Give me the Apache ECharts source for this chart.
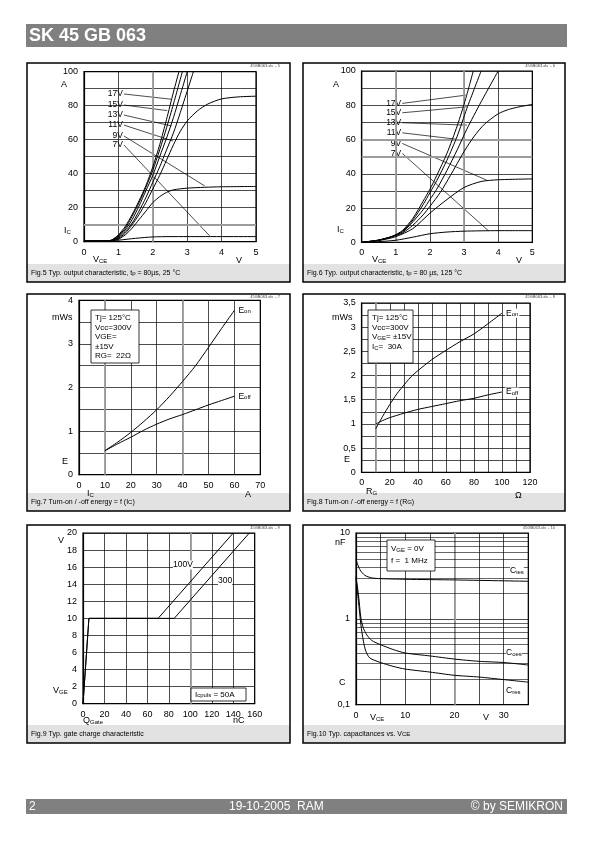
<!DOCTYPE html>
<html><head><meta charset="utf-8">
<script src="https://cdn.jsdelivr.net/npm/echarts@6/dist/echarts.min.js"></script>
<style>html,body{margin:0;padding:0;background:#fff}#c{width:595px;height:842px}</style>
</head><body><div id="c"></div>
<script>
// ---------- DATA ----------
// Fig.5  output characteristic 25 °C  (VCE [V], IC [A])
const f5_c1 = [[0,0.4],[0.6,0.4],[0.8,1],[1,4],[1.2,9],[1.4,16],[1.6,24],[1.8,33],[2,44],[2.2,57],[2.4,72],[2.6,88],[2.76,100]];
const f5_c2 = [[0,0.4],[0.6,0.4],[0.8,0.9],[1,3.5],[1.2,8],[1.4,15],[1.6,23],[1.8,32],[2,42],[2.2,54],[2.4,67],[2.6,81],[2.86,100]];
const f5_c3 = [[0,0.4],[0.6,0.4],[0.8,0.8],[1,3],[1.2,7],[1.4,13],[1.6,21],[1.8,30],[2,39],[2.2,50],[2.4,61],[2.6,73],[3.0,100]];
const f5_c4 = [[0,0.4],[0.6,0.4],[0.8,0.7],[1,2.5],[1.2,6],[1.4,11],[1.6,18],[1.8,26],[2,35],[2.2,44],[2.4,54],[2.6,64],[2.8,76],[3.18,100]];
const f5_11V = [[0,0.4],[0.6,0.4],[0.8,0.6],[1,2],[1.2,5],[1.4,10],[1.6,16],[1.8,23],[2,31],[2.2,39],[2.4,48],[2.6,57],[2.8,65],[3.0,71],[3.3,77],[3.6,81],[4,84],[4.5,85.2],[5,85.6]];
const f5_9V = [[0,0.4],[0.6,0.4],[0.8,0.5],[1,1.5],[1.2,4],[1.4,8],[1.6,13],[1.8,18],[2,23],[2.2,26.5],[2.4,29],[2.6,30.5],[3,31.5],[3.5,32],[4,32.3],[5,32.5]];
const f5_7V = [[0,0.4],[0.6,0.4],[1,0.9],[1.5,2],[2,2.8],[2.5,3],[3,3],[5,3]];
const f5_labels = ['17V','15V','13V','11V','9V','7V'];
const f5_labelAt = [[1.16,86.9],[1.16,80.4],[1.16,74.5],[1.16,68.6],[1.16,62.2],[1.16,56.9]];
const f5_pointTo = [[2.54,83.8],[2.42,77.1],[2.54,68.1],[2.59,59.2],[3.51,32.8],[3.65,3.5]];

// Fig.6  output characteristic 125 °C
const f6_17V = [[0,0],[0.5,1.3],[0.9,3.5],[1.2,7],[1.5,14],[1.8,24],[2,31],[2.2,39],[2.5,52],[2.8,68],[3.05,84],[3.27,100]];
const f6_15V = [[0,0],[0.5,1.3],[0.9,3.5],[1.2,6.5],[1.5,13],[1.8,22],[2,29],[2.2,36],[2.5,48],[2.8,62],[3.08,78],[3.5,100]];
const f6_13V = [[0,0],[0.5,1.3],[0.9,3.5],[1.2,6],[1.5,12],[1.8,19],[2,25],[2.2,31],[2.5,42],[2.8,54],[3.08,66],[3.5,82],[4.0,100]];
const f6_11V = [[0,0],[0.5,1.2],[0.9,3.3],[1.2,5.5],[1.5,10],[1.8,16],[2,21],[2.3,29],[2.6,39],[3,53],[3.3,62],[3.6,69],[4,75],[4.3,77.5],[4.6,79],[5,80.5]];
const f6_9V = [[0,0],[0.5,1],[1,3.3],[1.5,8],[2,17],[2.5,25],[3,32],[3.5,35.5],[4,36.5],[5,37]];
const f6_7V = [[0,0],[0.5,0.4],[1,1.2],[1.5,3],[2,5],[2.5,6],[3,6.5],[4,6.8],[5,6.8]];
const f6_labels = ['17V','15V','13V','11V','9V','7V'];
const f6_labelAt = [[1.19,81.1],[1.19,75.6],[1.19,69.8],[1.19,63.9],[1.19,57.7],[1.19,51.9]];
const f6_pointTo = [[3.05,85.9],[3.08,79.1],[3.08,68.4],[2.98,59.7],[3.66,36.3],[3.71,6.8]];

// Fig.7  E = f(IC)   (IC [A], E [mWs])
const f7_Eon = [[10,0.55],[15,0.75],[20,0.97],[25,1.22],[30,1.49],[35,1.8],[40,2.14],[45,2.5],[50,2.92],[55,3.35],[60,3.77]];
const f7_Eoff = [[10,0.55],[15,0.71],[20,0.86],[25,1.02],[30,1.16],[35,1.28],[40,1.38],[45,1.49],[50,1.6],[55,1.7],[60,1.8]];

// Fig.8  E = f(RG)   (RG [Ohm], E [mWs])
const f8_Eon = [[10,0.9],[15,1.16],[20,1.4],[25,1.62],[28,1.73],[35,1.97],[40,2.1],[50,2.33],[60,2.52],[70,2.7],[80,2.86],[90,3.07],[100,3.29]];
const f8_Eoff = [[10,1.0],[15,1.07],[20,1.13],[30,1.22],[40,1.3],[50,1.36],[60,1.42],[70,1.48],[80,1.53],[90,1.6],[100,1.66]];

// Fig.9  gate charge (QGate [nC], VGE [V])
const f9_100V = [[0,0],[5.5,10],[70,10],[140,20]];
const f9_300V = [[0,0],[5.5,10],[85,10],[155,20]];

// Fig.10 capacitances (VCE [V], C [nF])
const f10_Cies = [[0,4.9],[0.8,3.73],[1.8,3.21],[3.2,3.0],[5,2.94],[10,2.89],[20,2.84],[35,2.74]];
const f10_Coes = [[0,3.1],[0.5,1.91],[1,1.02],[1.5,0.78],[2.2,0.65],[3.2,0.56],[5,0.5],[7.5,0.44],[10,0.4],[15,0.37],[20,0.34],[25,0.32],[30,0.31],[35,0.29]];
const f10_Cres = [[0,3.0],[0.5,1.6],[1,0.85],[1.5,0.55],[2,0.42],[2.8,0.35],[5,0.31],[7.5,0.28],[10,0.26],[15,0.24],[20,0.22],[25,0.21],[30,0.196],[35,0.183]];
const f10_minorLines = [0.2,0.3,0.4,0.5,0.6,0.7,0.8,0.9,2,3,4,5,6,7,8,9];

// grid lines that print grey/thick in the scanned sheet (axis values)
const greyX = [[2],[1,3],[10,40],[10],[100],[20]];
const greyY = [[10],[60,50],[],[],[],[]];

// ---------- CHART ----------
const F = "'Liberation Sans', Arial, Helvetica, sans-serif";
const chart = echarts.init(document.getElementById('c'), null, {renderer:'canvas'});

const SUB = {fontSize:6, fontFamily:F, verticalAlign:'bottom', lineHeight:5, color:'#000', fill:'#000'};

function grid(l,t,w,h){return {left:l,top:t,width:w,height:h,show:true,borderColor:'#000',borderWidth:1.2,backgroundColor:'transparent',containLabel:false};}
function axis(gi,min,max,interval,fmt,margin,extra){
  return Object.assign({type:'value',gridIndex:gi,min,max,interval,
    axisLine:{show:true,onZero:false,lineStyle:{color:'#000',width:1.2}},
    axisTick:{show:false},
    splitLine:{show:true,lineStyle:{color:'#000',width:0.7}},
    axisLabel:{color:'#000',fontSize:9,fontFamily:F,margin:margin,formatter:fmt,showMinLabel:true,showMaxLabel:true}
  }, extra||{});
}
const plain = v => String(v);
const every = n => v => (Math.abs(v/n - Math.round(v/n))<1e-6 ? String(Math.round(v*100)/100).replace('.',',') : '');

function curve(gi,data,extra){
  return Object.assign({type:'line',xAxisIndex:gi,yAxisIndex:gi,data:data,showSymbol:false,symbol:'none',smooth:0.25,
    lineStyle:{color:'#000',width:1},silent:true,animation:false,z:5},extra||{});
}
function leaders(gi,names,from,to){
  return names.map((n,i)=>({type:'line',xAxisIndex:gi,yAxisIndex:gi,silent:true,animation:false,
    symbol:'circle',symbolSize:0.1,showSymbol:true,itemStyle:{color:'#000'},
    lineStyle:{color:'#000',width:0.7},z:4,
    data:[{value:from[i],label:{show:true,position:'left',distance:1,formatter:n,color:'#000',fontSize:8.5,fontFamily:F}},
          {value:to[i],label:{show:false}}]}));
}
function greyLines(gi){
  const d = greyX[gi].map(v=>({xAxis:v})).concat(greyY[gi].map(v=>({yAxis:v})));
  return {type:'line',xAxisIndex:gi,yAxisIndex:gi,data:[],silent:true,z:3,
    markLine:{silent:true,symbol:['none','none'],animation:false,label:{show:false},
      lineStyle:{color:'#9c9c9c',width:1.8,type:'solid'},data:d}};
}
function endLabel(text,dist){
  return {show:true,formatter:text,color:'#000',fontSize:8.5,fontFamily:F,distance:dist||3,
    backgroundColor:'#fff',padding:[0,1,0,1],rich:{s:{fontSize:6,fontFamily:F,verticalAlign:'bottom',lineHeight:5,color:'#000',backgroundColor:'#fff'}}};
}
function lastLabeled(data,text){
  const d = data.slice(0,-1);
  d.push({value:data[data.length-1],label:Object.assign(endLabel(text),{position:'right'})});
  return d;
}

function T(x,y,text,size,o){
  o=o||{};
  return {type:'text',x:x,y:y,z:100,silent:true,
    style:{text:text,fontSize:size,fontFamily:F,fontWeight:o.bold?'bold':'normal',fill:o.fill||'#000',
      align:o.align||'left',textAlign:o.align||'left',verticalAlign:'middle',textVerticalAlign:'middle',
      backgroundColor:o.bg,rich:{s:Object.assign({},SUB,{fill:o.fill||'#000',color:o.fill||'#000'})}}};
}
function R(x,y,w,h,o){
  return {type:'rect',z:o.z||1,silent:true,shape:{x:x,y:y,width:w,height:h},
    style:{fill:o.fill||'none',stroke:o.stroke||null,lineWidth:o.lw||0}};
}

// panel boxes
const COLX=[27,303], COLW=[263,262];
const ROWY=[63,294,525], ROWH=[219,217,218];
const captions=[
 'Fig.5 Typ. output characteristic, t{s|p} = 80µs, 25 °C',
 'Fig.6 Typ. output characteristic, t{s|p} = 80 µs, 125 °C',
 'Fig.7 Turn-on / -off energy = f (I{s|C})',
 'Fig.8 Turn-on / -off energy = f (R{s|G})',
 'Fig.9 Typ. gate charge characteristic',
 'Fig.10 Typ. capacitances vs. V{s|CE}'];
const fileTags=['45GB063.xls  - 5','45GB063.xls  - 6','45GB063.xls  - 7','45GB063.xls  - 8','45GB063.xls  - 9','45GB063.xls  - 10'];
const graphic=[];
// header & footer
graphic.push(R(26,24,541,23,{fill:'#808080'}));
graphic.push(T(29,36,'SK 45 GB 063',18,{bold:true,fill:'#fff'}));
graphic.push(R(26,799,541,15,{fill:'#808080'}));
graphic.push(T(29,807,'2',12,{fill:'#fff'}));
graphic.push(T(229,807,'19-10-2005  RAM',12,{fill:'#fff'}));
graphic.push(T(563,807,'© by SEMIKRON',12,{fill:'#fff',align:'right'}));
for(let r=0;r<3;r++)for(let c=0;c<2;c++){
  const i=r*2+c, x=COLX[c], y=ROWY[r], w=COLW[c], h=ROWH[r];
  graphic.push(R(x,y+h-18,w,18,{fill:'#e2e2e2',z:1}));
  graphic.push(R(x,y,w,h,{stroke:'#000',lw:1.5,z:2}));
  graphic.push(T(x+4,y+h-9,captions[i],7));
  graphic.push({type:'text',x:x+w-10,y:y+3,z:100,silent:true,style:{text:fileTags[i],fontSize:4,fontFamily:F,fill:'#444',align:'right',textAlign:'right',verticalAlign:'middle',textVerticalAlign:'middle'}});
}
// axis names / units
graphic.push(T(61,85,'A',9), T(64,231,'I{s|C}',9), T(93,260,'V{s|CE}',9), T(236,261,'V',9));
graphic.push(T(333,85,'A',9), T(337,230,'I{s|C}',9), T(372,260,'V{s|CE}',9), T(516,261,'V',9));
graphic.push(T(52,318,'mWs',9), T(62,462,'E',9), T(87,494,'I{s|C}',9), T(245,495,'A',9));
graphic.push(T(332,318,'mWs',9), T(344,460,'E',9), T(366,492,'R{s|G}',9), T(515,496,'Ω',9));
graphic.push(T(58,541,'V',9), T(53,691,'V{s|GE}',9), T(83,721,'Q{s|Gate}',9), T(233,721,'nC',9));
graphic.push(T(335,543,'nF',9), T(339,683,'C',9), T(370,718,'V{s|CE}',9), T(483,718,'V',9));
// info boxes
graphic.push(R(91,310,48,53,{fill:'#fff',stroke:'#000',lw:0.8,z:50}));
graphic.push(T(95,318,'Tj= 125°C',8), T(95,327.5,'Vcc=300V',8), T(95,337,'VGE=',8), T(95,346.5,'±15V',8), T(95,356,'RG=  22Ω',8));
graphic.push(R(368,310,45,53,{fill:'#fff',stroke:'#000',lw:0.8,z:50}));
graphic.push(T(372,318,'Tj= 125°C',8), T(372,327.5,'Vcc=300V',8), T(372,337,'V{s|GE}= ±15V',8), T(372,347,'I{s|C}=  30A',8));
graphic.push(R(191,688,55,13,{fill:'#fff',stroke:'#000',lw:0.8,z:50}));
graphic.push(T(195,694.5,'I{s|cpuls} = 50A',8));
graphic.push(R(387,540,48,31,{fill:'#fff',stroke:'#000',lw:0.8,z:50}));
graphic.push(T(391,549,'V{s|GE} = 0V',8), T(391,561,'f =  1 MHz',8));
// curve annotations
graphic.push(T(173,565,'100V',8.5,{bg:'#fff'}), T(218,581,'300',8.5,{bg:'#fff'}));
graphic.push(T(510,571,'C{s|ies}',8.5,{bg:'#fff'}), T(506,653,'C{s|oes}',8.5,{bg:'#fff'}), T(506,691,'C{s|res}',8.5,{bg:'#fff'}));

const option={
  animation:false,
  textStyle:{fontFamily:F},
  grid:[grid(84,71.7,172,170), grid(361.7,71,170.6,171.3), grid(79,300.3,181.3,174.4),
        grid(361.7,303,168.3,169.3), grid(83,533,171.7,170.7), grid(356,533,172.3,171.7)],
  xAxis:[axis(0,0,5,1,plain,6), axis(1,0,5,1,plain,6), axis(2,0,70,10,plain,6),
         axis(3,0,120,10,every(20),6), axis(4,0,160,20,plain,6), axis(5,0,35,5,every(10),6)],
  yAxis:[axis(0,0,100,10,every(20),6), axis(1,0,100,10,every(20),6), axis(2,0,4,0.5,every(1),6),
         axis(3,0,3.5,0.25,every(0.5),6), axis(4,0,20,2,plain,6),
         {type:'log',gridIndex:5,min:0.1,max:10,logBase:10,
          axisLine:{show:true,onZero:false,lineStyle:{color:'#000',width:1.2}},axisTick:{show:false},
          splitLine:{show:true,lineStyle:{color:'#000',width:0.7}},
          axisLabel:{color:'#000',fontSize:9,fontFamily:F,margin:6,formatter:v=>v<0.5?'0,1':String(Math.round(v))}}],
  graphic:graphic,
  series:[
    greyLines(0),greyLines(1),greyLines(2),greyLines(3),greyLines(4),greyLines(5),
    curve(0,f5_c1),curve(0,f5_c2),curve(0,f5_c3),curve(0,f5_c4),curve(0,f5_11V),curve(0,f5_9V),curve(0,f5_7V),
    ...leaders(0,f5_labels,f5_labelAt,f5_pointTo),
    curve(1,f6_17V),curve(1,f6_15V),curve(1,f6_13V),curve(1,f6_11V),curve(1,f6_9V),curve(1,f6_7V),
    ...leaders(1,f6_labels,f6_labelAt,f6_pointTo),
    curve(2,lastLabeled(f7_Eon,'E{s|on}'),{showSymbol:true,symbol:'circle',symbolSize:0.1}),
    curve(2,lastLabeled(f7_Eoff,'E{s|off}'),{showSymbol:true,symbol:'circle',symbolSize:0.1}),
    curve(3,lastLabeled(f8_Eon,'E{s|on}'),{showSymbol:true,symbol:'circle',symbolSize:0.1}),
    curve(3,lastLabeled(f8_Eoff,'E{s|off}'),{showSymbol:true,symbol:'circle',symbolSize:0.1}),
    curve(4,f9_100V,{smooth:false}),curve(4,f9_300V,{smooth:false}),
    curve(5,f10_Cies),curve(5,f10_Coes),curve(5,f10_Cres),
    {type:'line',xAxisIndex:5,yAxisIndex:5,data:[],silent:true,
     markLine:{silent:true,symbol:['none','none'],animation:false,label:{show:false},
       lineStyle:{color:'#000',width:0.6,type:'solid'},data:f10_minorLines.map(v=>({yAxis:v}))}}
  ]
};
chart.setOption(option);
</script></body></html>
